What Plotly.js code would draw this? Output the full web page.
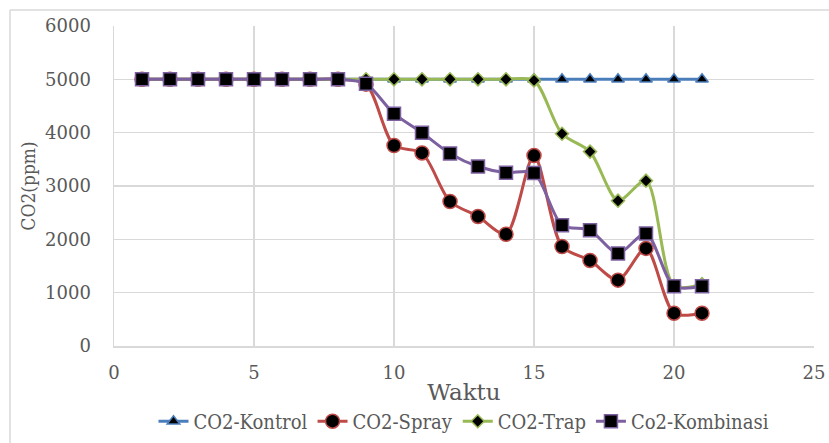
<!DOCTYPE html>
<html>
<head>
<meta charset="utf-8">
<script src="https://cdn.plot.ly/plotly-3.0.1.min.js"></script>
<style>html,body{margin:0;padding:0;background:#fff;}</style>
</head>
<body>
<div id="chart" style="width:829px;height:443px;"></div>
<script>
const waktu = [1,2,3,4,5,6,7,8,9,10,11,12,13,14,15,16,17,18,19,20,21];
const kontrol = [5000,5000,5000,5000,5000,5000,5000,5000,5000,5000,5000,5000,5000,5000,5000,5000,5000,5000,5000,5000,5000];
const spray = [5000,5000,5000,5000,5000,5000,5000,5000,4910,3760,3620,2710,2430,2095,3570,1865,1605,1235,1830,615,615];
const trap = [5000,5000,5000,5000,5000,5000,5000,5000,5000,5000,5000,5000,5000,5000,4980,3980,3645,2725,3100,1130,1160];
const kombinasi = [5000,5000,5000,5000,5000,5000,5000,5000,4915,4355,4000,3610,3365,3250,3245,2265,2170,1735,2110,1120,1120];
const seriesNames = ['CO2-Kontrol','CO2-Spray','CO2-Trap','Co2-Kombinasi'];

const font = "'DejaVu Serif', 'Liberation Serif', serif";
const condFont = "'DejaVu Serif Condensed', 'DejaVu Serif', serif";

function tr(y, name, color, symbol, size) {
  return {
    x: waktu, y: y, name: name, type: 'scatter', mode: 'lines+markers',
    line: {color: color, width: 3, shape: 'spline', smoothing: 0.8},
    marker: {symbol: symbol, size: size, color: '#000', line: {color: color, width: 1.5}}
  };
}

const data = [
  tr(kontrol, seriesNames[0], '#4A7EBB', 'triangle-up', 11),
  tr(spray, seriesNames[1], '#BE4B48', 'circle', 14),
  tr(trap, seriesNames[2], '#98B954', 'diamond', 10),
  tr(kombinasi, seriesNames[3], '#7D60A0', 'square', 13)
];

const layout = {
  width: 829, height: 443,
  margin: {l: 114, r: 15, t: 26, b: 97, autoexpand: false},
  paper_bgcolor: '#fff', plot_bgcolor: '#fff',
  font: {family: font, color: '#595959', size: 18},
  showlegend: true,
  legend: {orientation: 'h', x: 0.5, xanchor: 'center', y: -0.235, yanchor: 'middle',
           font: {family: condFont, size: 20, color: '#595959'}, tracegroupgap: 0},
  xaxis: {
    range: [0, 25], tickvals: [0,5,10,15,20,25], ticktext: ['0','5','10','15','20','25'],
    showgrid: true, gridcolor: '#D9D9D9', gridwidth: 1.5,
    showline: true, linecolor: '#D9D9D9', linewidth: 1.5, zeroline: false,
    ticks: '', ticklabelstandoff: 10,
    tickfont: {size: 18, color: '#595959'},
    title: {text: 'Waktu', font: {size: 23, color: '#595959'}, standoff: 2}
  },
  yaxis: {
    range: [0, 6000], tickvals: [0,1000,2000,3000,4000,5000,6000],
    showgrid: true, gridcolor: '#D9D9D9', gridwidth: 1.5,
    showline: true, linecolor: '#D9D9D9', linewidth: 1.5, zeroline: false,
    ticks: '', ticklabelstandoff: 18,
    tickfont: {size: 18, color: '#595959'},
    title: {text: 'CO2(ppm)', font: {family: condFont, size: 19, color: '#595959'}, standoff: 4}
  },
  shapes: [
    {type: 'line', xref: 'paper', yref: 'paper', x0: -0.1486, x1: 1.03, y0: 1.05, y1: 1.05, line: {color: '#D9D9D9', width: 1.5}},
    {type: 'line', xref: 'paper', yref: 'paper', x0: -0.1486, x1: -0.1486, y0: 1.05, y1: -0.35, line: {color: '#D9D9D9', width: 1.5}}
  ]
};

Plotly.newPlot('chart', data, layout, {displayModeBar: false, staticPlot: true});
</script>
</body>
</html>
